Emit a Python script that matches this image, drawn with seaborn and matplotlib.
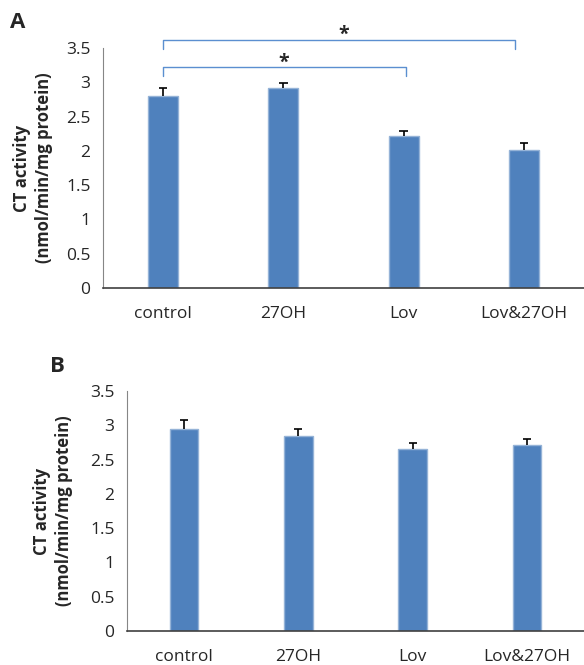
import numpy as np
import matplotlib.pyplot as plt
import pandas as pd
import seaborn as sns

# Data
groups = ['control', '27OH', 'Lov', 'Lov&27OH']
ct_a = [2.80, 2.91, 2.22, 2.01]
err_a = [0.11, 0.08, 0.07, 0.11]
ct_b = [2.94, 2.85, 2.65, 2.71]
err_b = [0.14, 0.10, 0.09, 0.09]

# significance brackets for panel A: (from, to, level, star x)
sig_pairs = [(0, 2.93, 3.62, 1.5), (0, 2.02, 3.22, 1.0)]

sns.set_style("white")
plt.rcParams['font.family'] = ['Open Sans', 'DejaVu Sans']

bar_color = '#4f81bd'
edge_color = '#95b3d7'
ylab = "CT activity\n(nmol/min/mg protein)"

fig = plt.figure(figsize=(5.84, 6.65), dpi=100)
ax_a = fig.add_axes([103/584, 1 - 288/665, 481/584, 240/665])
ax_b = fig.add_axes([127/584, 1 - 631/665, 457/584, 240/665])


def draw_panel(ax, vals, errs, pad):
    df = pd.DataFrame({'group': groups, 'ct': vals})
    sns.barplot(data=df, x='group', y='ct', color=bar_color, width=0.25,
                edgecolor=edge_color, linewidth=1, saturation=1, ax=ax)
    # upper error bars only
    xs = np.arange(len(vals))
    tops = np.array(vals) + np.array(errs)
    ax.vlines(xs, vals, tops, color='black', lw=1.2, zorder=3)
    ax.hlines(tops, xs - 0.035, xs + 0.035, color='black', lw=1.2, zorder=3)
    ax.set_xlim(-0.5, 3.5)
    ax.set_ylim(0, 3.5)
    ax.set_yticks(np.arange(0, 3.51, 0.5))
    ax.set_yticklabels(['0', '0.5', '1', '1.5', '2', '2.5', '3', '3.5'])
    ax.set_xlabel('')
    ax.set_ylabel(ylab, fontsize=12, fontweight='bold', labelpad=pad,
                  linespacing=1.3)
    for s in ['top', 'right']:
        ax.spines[s].set_visible(False)
    ax.spines['left'].set_color('#868686')
    ax.spines['bottom'].set_color('#404040')
    ax.spines['bottom'].set_linewidth(1.2)
    ax.tick_params(axis='y', direction='out', length=5, color='#868686',
                   labelsize=12.5, pad=4)
    ax.tick_params(axis='x', length=0, labelsize=12.5, pad=13)


draw_panel(ax_a, ct_a, err_a, 9)
draw_panel(ax_b, ct_b, err_b, 12)

# brackets
for x0, x1, lev, xs in sig_pairs:
    drop = 0.13
    ax_a.plot([x0, x0, x1, x1], [lev - drop, lev, lev, lev - drop],
              color='#5b8fd0', lw=1, clip_on=False)
    ax_a.text(xs, lev - 0.08, '*', ha='center', va='bottom', fontsize=14,
              fontweight='bold')

fig.text(10/584, 1 - 22/665, 'A', fontsize=16, fontweight='bold', va='center')
fig.text(50/584, 1 - 366/665, 'B', fontsize=16, fontweight='bold', va='center')

fig.savefig('out.png', dpi=100)
